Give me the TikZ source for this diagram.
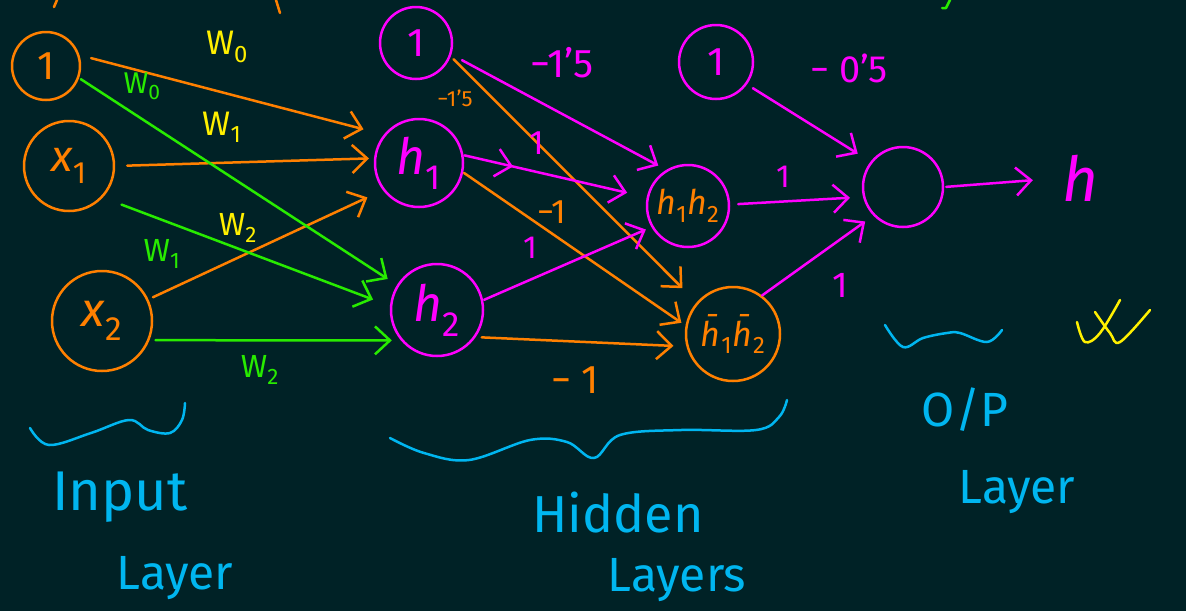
\documentclass[tikz,border=0pt]{standalone}
\usepackage{fontspec}
\setmainfont{Fira Sans}
\usetikzlibrary{arrows.meta,decorations.markings}

\definecolor{board}{RGB}{0,34,38}
\definecolor{org}{RGB}{255,128,0}
\definecolor{mag}{RGB}{255,0,255}
\definecolor{grn}{RGB}{40,235,0}
\definecolor{ylw}{RGB}{255,240,0}
\definecolor{blu}{RGB}{0,182,240}

\newcommand\setfs[1]{\fontsize{#1}{#1}\selectfont}
% italic variable with a subscript, e.g. \var{x}{1}
\newcommand\var[2]{\textit{#1}\textsubscript{#2}}

\begin{document}
\begin{tikzpicture}[x=1pt,y=-1pt,
  line width=2.5pt, line cap=round, line join=round,
  >={Straight Barb[length=15pt,width=28pt]},
  neuron/.style={circle, draw=#1, line width=2.5pt, inner sep=0pt},
  ntext/.style={text=#1, inner sep=0pt},
  wire/.style={draw=#1, ->},
  elabel/.style={text=#1, inner sep=0pt},
  midarrow/.style={postaction={decorate, decoration={markings,
      mark=at position #1 with {\arrow{>}}}}},
  scribble/.style={draw=#1, line width=2.5pt},
  notes/.style={text=blu, inner sep=0pt}]

\useasboundingbox[fill=board] (0,0) rectangle (1186,611);

% ---- input layer ----
\node[neuron=org, minimum size=68pt, ntext=org] (in1) at (46,66) {\setfs{40}1};
\node[neuron=org, minimum size=90pt, ntext=org] (x1) at (69,166) {\setfs{44}\var{x}{1}};
\node[neuron=org, minimum size=100pt, ntext=org] (x2) at (102,321) {\setfs{48}\var{x}{2}};

% ---- hidden layer ----
\node[neuron=mag, minimum size=72pt, ntext=mag] (b1) at (416,43) {\setfs{40}1};
\node[neuron=mag, minimum size=88pt, ntext=mag] (h1) at (419,163) {\setfs{50}\var{h}{1}};
\node[neuron=mag, minimum size=92pt, ntext=mag] (h2) at (437,310) {\setfs{50}\var{h}{2}};

\node[neuron=mag, minimum size=74pt, ntext=mag] (b2) at (716,62) {\setfs{40}1};
\node[neuron=mag, minimum size=82pt, ntext=org] (hh) at (688,206) {\setfs{34}\raisebox{-8pt}{\var{h}{1}\var{h}{2}}};
\node[neuron=org, minimum size=94pt, ntext=org] (hb) at (733,334) {\setfs{34}\var{\=h}{1}\var{\=h}{2}};

% ---- output ----
\node[neuron=mag, minimum size=80pt] (out) at (903,187) {};
\node[ntext=mag] (hy) at (1080,178) {\setfs{62}\textit{h}};

% ---- connections into the first hidden layer ----
\draw[wire=org, shorten <=12pt, shorten >=21pt] (in1.18) -- (h1.141);
\draw[wire=org, shorten <=12pt, shorten >=5pt] (x1.0) -- (h1.174);
\draw[wire=org, shorten <=5pt, shorten >=17pt] (x2.25) -- (h1.217);
\draw[wire=grn, shorten <=2pt, shorten >=11pt] (in1.340) -- (h2.148);
\draw[wire=grn, shorten <=20pt, shorten >=18pt] (x1.317) -- (h2.175);
\draw[wire=grn, shorten <=6pt, shorten >=9pt] (x2.338) -- (h2.220);

% ---- connections into the second hidden layer ----
\draw[wire=mag, shorten <=12pt, shorten >=9pt] (b1.342) -- (hh.121);
\draw[wire=org, shorten <=4pt, shorten >=20pt] (b1.339) -- (hb.139);
\draw[wire=mag, midarrow=0.27, shorten <=1pt, shorten >=20pt] (h1.10) -- (hh.168);
\draw[wire=org, shorten <=1pt, shorten >=5pt] (h1.348) -- (hb.170);
\draw[wire=mag, shorten <=1pt, shorten >=6pt] (h2.12) -- (hh.210);
\draw[wire=org, shorten <=6pt, shorten >=13pt] (h2.325) -- (hb.195);

% ---- connections into the output ----
\draw[wire=mag, shorten <=7pt, shorten >=15pt] (b2.324) -- (out.142);
\draw[wire=mag, shorten <=8pt, shorten >=13pt] (hh.2) -- (out.194);
\draw[wire=mag, shorten >=10pt] (hb.53) -- (out.224);
\draw[wire=mag, shorten <=2pt, shorten >=28pt] (out.0) -- (hy.west);

% ---- weights ----
\node[elabel=ylw] (wa) at (227,47) {\setfs{34}W\textsubscript{0}};
\node[elabel=grn] (wb) at (142,86) {\setfs{30}W\textsubscript{0}};
\node[elabel=ylw] (wc) at (222,127) {\setfs{34}W\textsubscript{1}};
\node[elabel=ylw] (wd) at (238,228) {\setfs{32}W\textsubscript{2}};
\node[elabel=grn] (we) at (162,254) {\setfs{32}W\textsubscript{1}};
\node[elabel=grn] (wf) at (260,370) {\setfs{32}W\textsubscript{2}};

\node[elabel=mag] (la) at (562,63) {\setfs{40}−1’5};
\node[elabel=org] (lb) at (455,98) {\setfs{22}−1’5};
\node[elabel=mag] (lc) at (537,143) {\setfs{34}1};
\node[elabel=org] (ld) at (552,212) {\setfs{34}−1};
\node[elabel=mag] (le) at (530,248) {\setfs{32}1};
\node[elabel=org] (lf) at (575,380) {\setfs{40}− 1};
\node[elabel=mag] (lg) at (849,68) {\setfs{38}− 0’5};
\node[elabel=mag] (lh) at (783,177) {\setfs{32}1};
\node[elabel=mag] (li) at (840,285) {\setfs{36}1};

% ---- braces under the layers ----
\draw[scribble=blu] plot[smooth, tension=0.6] coordinates
  {(30,428) (49,445) (91,433) (129,420) (148,430) (170,433) (182,420) (185,403)};
\draw[scribble=blu] plot[smooth, tension=0.6] coordinates
  {(390,438) (424,453) (469,460) (530,440) (567,442) (594,458) (620,435)
   (681,430) (756,430) (779,417) (787,400)};
\draw[scribble=blu] plot[smooth, tension=0.6] coordinates
  {(885,325) (903,347) (923,338) (947,333) (960,333) (987,342) (1002,330)};

\node[notes] (t1) at (120,497) {\setfs{56}Input};
\node[notes] (t2) at (175,578) {\setfs{48}Layer};
\node[notes] (t3) at (618,513) {\setfs{52}Hidden};
\node[notes] (t4) at (677,580) {\setfs{48}Layers};
\node[notes] (t5) at (965,410) {\setfs{48}O/P};
\node[notes] (t6) at (1017,492) {\setfs{48}Layer};

% ---- yellow cross mark ----
\draw[scribble=ylw] plot[smooth, tension=0.6] coordinates
  {(1077,322) (1085,342) (1100,333) (1120,300)};
\draw[scribble=ylw] plot[smooth, tension=0.6] coordinates
  {(1095,312) (1110,333) (1120,342) (1150,310)};

% ---- strokes cut off at the top edge ----
\draw[scribble=org] (57,0) -- (54,7);
\draw[scribble=org] (276,0) .. controls (278,6) .. (280,13);
\draw[scribble=grn] (950,0) -- (946,8) -- (942,8);

\end{tikzpicture}
\end{document}
